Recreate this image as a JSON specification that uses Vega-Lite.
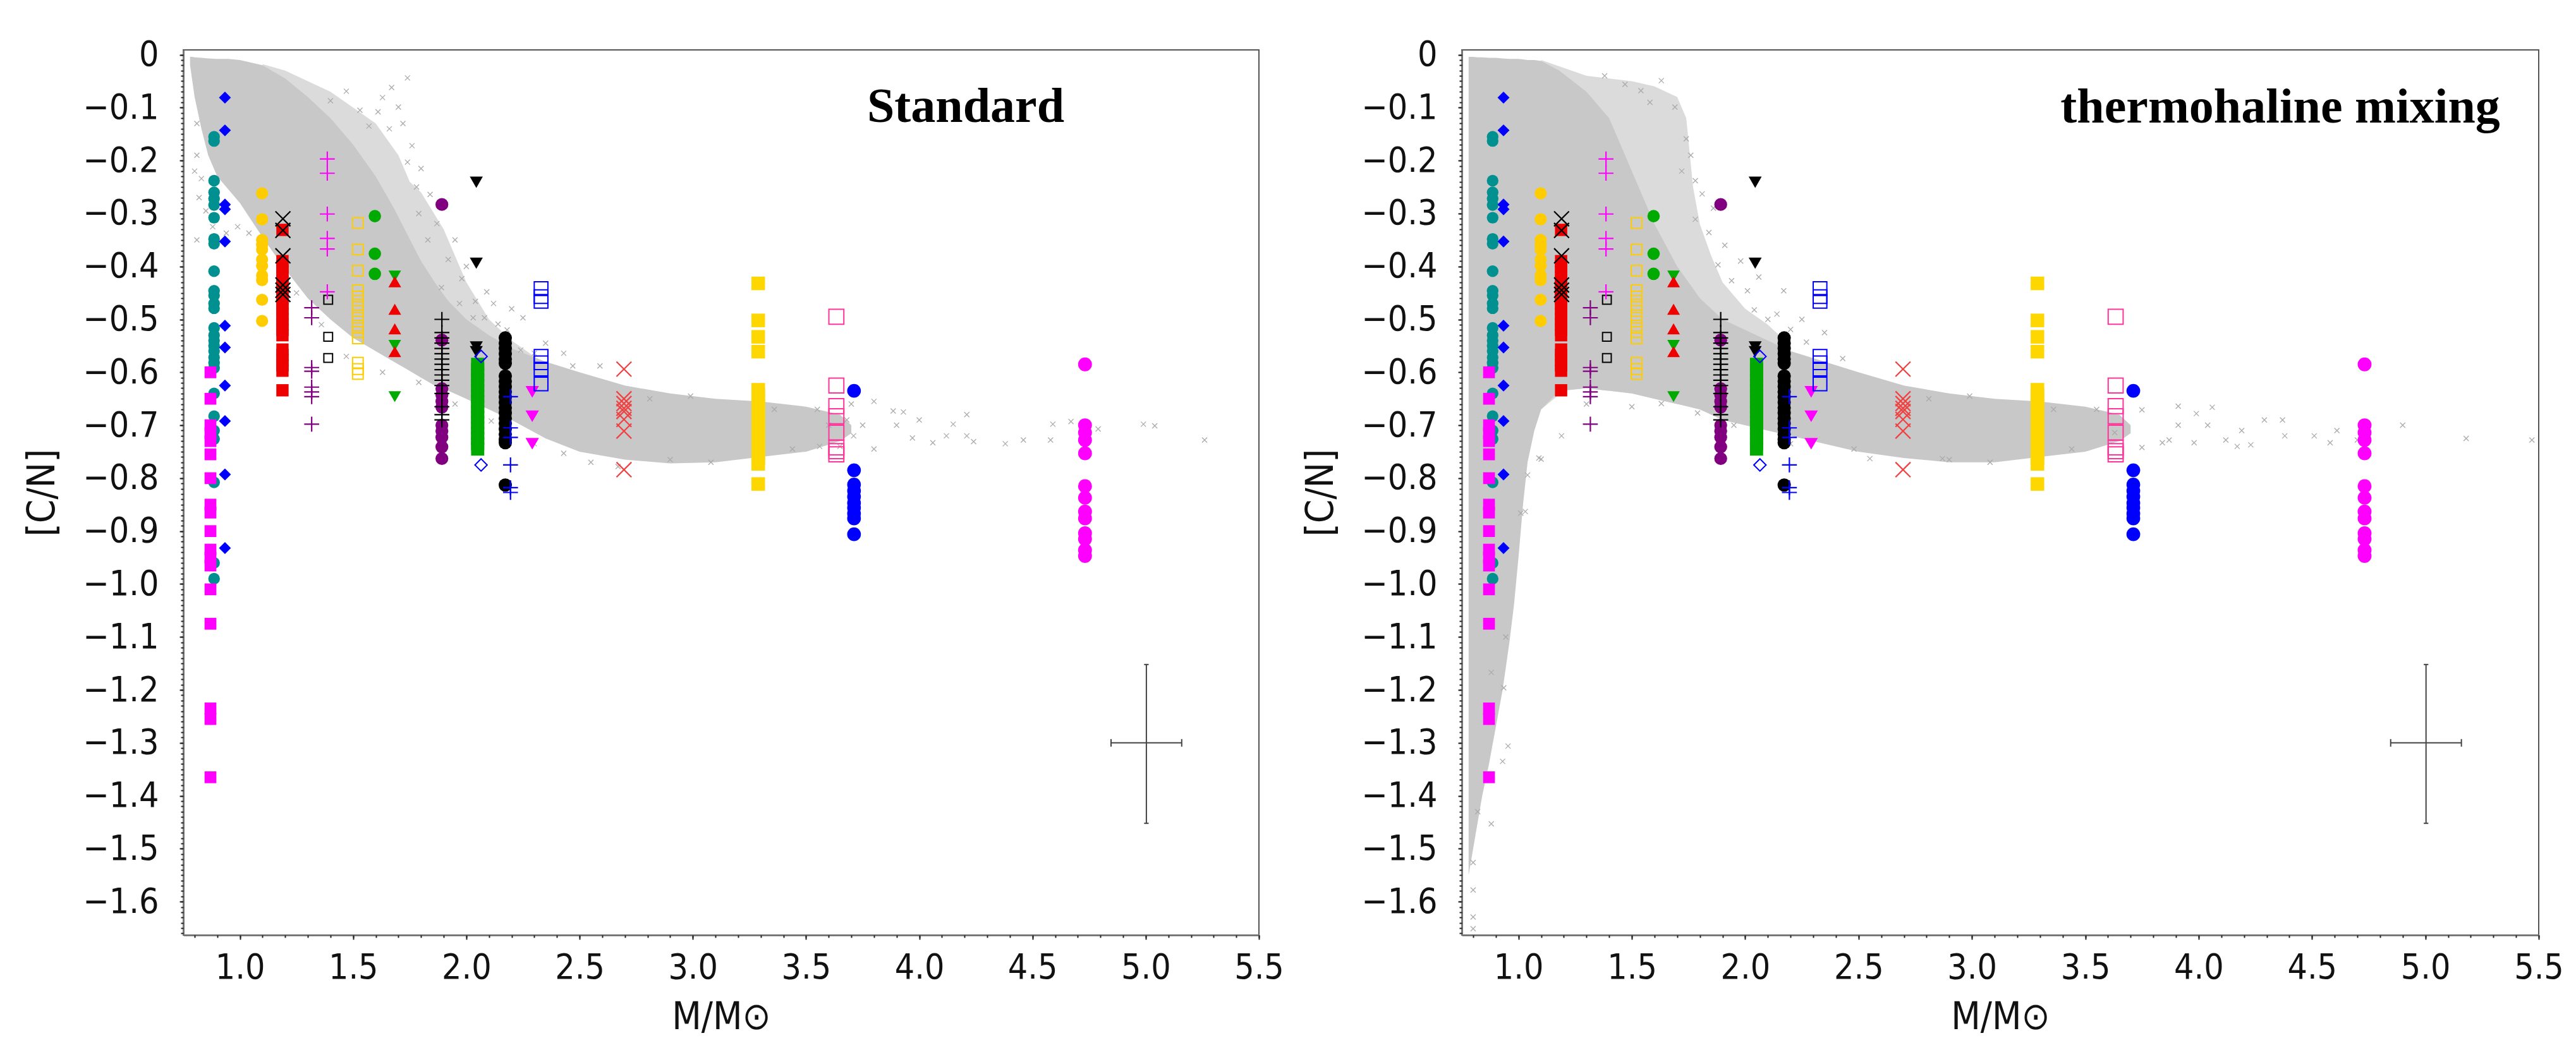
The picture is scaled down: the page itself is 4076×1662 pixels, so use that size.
{
"$schema": "https://vega.github.io/schema/vega-lite/v6.json",
"background": "white",
"padding": {"left": 36, "top": 58, "right": 10, "bottom": 10},
"autosize": {"type": "pad"},
"bounds": "flush",
"spacing": 321,
"config": {
 "view": {"stroke": "#555555", "strokeWidth": 2},
 "axis": {"labelFont": "DejaVu Sans Condensed, DejaVu Sans, sans-serif", "labelFontSize": 55, "labelColor": "#111111", "titleFont": "DejaVu Sans Condensed, DejaVu Sans, sans-serif", "titleFontSize": 60, "titleFontWeight": "normal", "titleColor": "#111111", "domainColor": "#777777", "domainWidth": 3, "tickColor": "#222222", "tickWidth": 2, "grid": false}
},
"datasets": {
 "obs": [
  {"g":"teal","m":0.886,"cn":-0.155},{"g":"teal","m":0.886,"cn":-0.163},{"g":"teal","m":0.886,"cn":-0.238},{"g":"teal","m":0.886,"cn":-0.26},{"g":"teal","m":0.886,"cn":-0.272},{"g":"teal","m":0.886,"cn":-0.284},{"g":"teal","m":0.886,"cn":-0.308},{"g":"teal","m":0.886,"cn":-0.348},{"g":"teal","m":0.886,"cn":-0.357},{"g":"teal","m":0.886,"cn":-0.409},{"g":"teal","m":0.886,"cn":-0.446},{"g":"teal","m":0.886,"cn":-0.455},{"g":"teal","m":0.886,"cn":-0.47},{"g":"teal","m":0.886,"cn":-0.479},{"g":"teal","m":0.886,"cn":-0.516},{"g":"teal","m":0.886,"cn":-0.53},{"g":"teal","m":0.886,"cn":-0.54},{"g":"teal","m":0.886,"cn":-0.55},{"g":"teal","m":0.886,"cn":-0.56},{"g":"teal","m":0.886,"cn":-0.572},{"g":"teal","m":0.886,"cn":-0.582},{"g":"teal","m":0.886,"cn":-0.592},{"g":"teal","m":0.886,"cn":-0.64},{"g":"teal","m":0.886,"cn":-0.683},{"g":"teal","m":0.886,"cn":-0.71},{"g":"teal","m":0.886,"cn":-0.726},{"g":"teal","m":0.886,"cn":-0.808},{"g":"teal","m":0.886,"cn":-0.96},{"g":"teal","m":0.886,"cn":-0.99},
  {"g":"msq","m":0.87,"cn":-0.60},{"g":"msq","m":0.87,"cn":-0.65},{"g":"msq","m":0.87,"cn":-0.70},{"g":"msq","m":0.87,"cn":-0.715},{"g":"msq","m":0.87,"cn":-0.73},{"g":"msq","m":0.87,"cn":-0.755},{"g":"msq","m":0.87,"cn":-0.80},{"g":"msq","m":0.87,"cn":-0.85},{"g":"msq","m":0.87,"cn":-0.865},{"g":"msq","m":0.87,"cn":-0.90},{"g":"msq","m":0.87,"cn":-0.935},{"g":"msq","m":0.87,"cn":-0.95},{"g":"msq","m":0.87,"cn":-0.965},{"g":"msq","m":0.87,"cn":-1.01},{"g":"msq","m":0.87,"cn":-1.075},{"g":"msq","m":0.87,"cn":-1.235},{"g":"msq","m":0.87,"cn":-1.255},{"g":"msq","m":0.87,"cn":-1.365},
  {"g":"bdiam","m":0.934,"cn":-0.081},{"g":"bdiam","m":0.934,"cn":-0.143},{"g":"bdiam","m":0.934,"cn":-0.283},{"g":"bdiam","m":0.934,"cn":-0.292},{"g":"bdiam","m":0.934,"cn":-0.353},{"g":"bdiam","m":0.934,"cn":-0.512},{"g":"bdiam","m":0.934,"cn":-0.553},{"g":"bdiam","m":0.934,"cn":-0.625},{"g":"bdiam","m":0.934,"cn":-0.692},{"g":"bdiam","m":0.934,"cn":-0.793},{"g":"bdiam","m":0.934,"cn":-0.932},
  {"g":"gcirc","m":1.098,"cn":-0.262},{"g":"gcirc","m":1.098,"cn":-0.311},{"g":"gcirc","m":1.098,"cn":-0.35},{"g":"gcirc","m":1.098,"cn":-0.359},{"g":"gcirc","m":1.098,"cn":-0.368},{"g":"gcirc","m":1.098,"cn":-0.387},{"g":"gcirc","m":1.098,"cn":-0.399},{"g":"gcirc","m":1.098,"cn":-0.417},{"g":"gcirc","m":1.098,"cn":-0.426},{"g":"gcirc","m":1.098,"cn":-0.463},{"g":"gcirc","m":1.098,"cn":-0.503},
  {"g":"rsq","m":1.188,"cn":-0.331},{"g":"rsq","m":1.188,"cn":-0.39},{"g":"rsq","m":1.188,"cn":-0.40},{"g":"rsq","m":1.188,"cn":-0.41},{"g":"rsq","m":1.188,"cn":-0.42},{"g":"rsq","m":1.188,"cn":-0.43},{"g":"rsq","m":1.188,"cn":-0.44},{"g":"rsq","m":1.188,"cn":-0.45},{"g":"rsq","m":1.188,"cn":-0.46},{"g":"rsq","m":1.188,"cn":-0.47},{"g":"rsq","m":1.188,"cn":-0.48},{"g":"rsq","m":1.188,"cn":-0.49},{"g":"rsq","m":1.188,"cn":-0.50},{"g":"rsq","m":1.188,"cn":-0.51},{"g":"rsq","m":1.188,"cn":-0.52},{"g":"rsq","m":1.188,"cn":-0.53},{"g":"rsq","m":1.188,"cn":-0.557},{"g":"rsq","m":1.188,"cn":-0.567},{"g":"rsq","m":1.188,"cn":-0.577},{"g":"rsq","m":1.188,"cn":-0.587},{"g":"rsq","m":1.188,"cn":-0.597},{"g":"rsq","m":1.188,"cn":-0.634},
  {"g":"grcirc","m":1.596,"cn":-0.305},{"g":"grcirc","m":1.596,"cn":-0.376},{"g":"grcirc","m":1.596,"cn":-0.414},
  {"g":"grtri","m":1.684,"cn":-0.418},{"g":"grtri","m":1.684,"cn":-0.549},{"g":"grtri","m":1.684,"cn":-0.646},
  {"g":"rtri","m":1.684,"cn":-0.429},{"g":"rtri","m":1.684,"cn":-0.481},{"g":"rtri","m":1.684,"cn":-0.518},{"g":"rtri","m":1.684,"cn":-0.561},
  {"g":"pcirc","m":1.892,"cn":-0.283},{"g":"pcirc","m":1.892,"cn":-0.539},{"g":"pcirc","m":1.892,"cn":-0.631},{"g":"pcirc","m":1.892,"cn":-0.643},{"g":"pcirc","m":1.892,"cn":-0.655},{"g":"pcirc","m":1.892,"cn":-0.666},{"g":"pcirc","m":1.892,"cn":-0.70},{"g":"pcirc","m":1.892,"cn":-0.711},{"g":"pcirc","m":1.892,"cn":-0.723},{"g":"pcirc","m":1.892,"cn":-0.741},{"g":"pcirc","m":1.892,"cn":-0.763},
  {"g":"btri","m":2.044,"cn":-0.241},{"g":"btri","m":2.044,"cn":-0.394},{"g":"btri","m":2.044,"cn":-0.552},{"g":"btri","m":2.044,"cn":-0.561},
  {"g":"grsq","m":2.05,"cn":-0.585},{"g":"grsq","m":2.05,"cn":-0.595},{"g":"grsq","m":2.05,"cn":-0.605},{"g":"grsq","m":2.05,"cn":-0.615},{"g":"grsq","m":2.05,"cn":-0.625},{"g":"grsq","m":2.05,"cn":-0.635},{"g":"grsq","m":2.05,"cn":-0.645},{"g":"grsq","m":2.05,"cn":-0.655},{"g":"grsq","m":2.05,"cn":-0.665},{"g":"grsq","m":2.05,"cn":-0.675},{"g":"grsq","m":2.05,"cn":-0.685},{"g":"grsq","m":2.05,"cn":-0.695},{"g":"grsq","m":2.05,"cn":-0.705},{"g":"grsq","m":2.05,"cn":-0.715},{"g":"grsq","m":2.05,"cn":-0.725},{"g":"grsq","m":2.05,"cn":-0.735},{"g":"grsq","m":2.05,"cn":-0.745},
  {"g":"bcirc","m":2.172,"cn":-0.535},{"g":"bcirc","m":2.172,"cn":-0.545},{"g":"bcirc","m":2.172,"cn":-0.555},{"g":"bcirc","m":2.172,"cn":-0.565},{"g":"bcirc","m":2.172,"cn":-0.575},{"g":"bcirc","m":2.172,"cn":-0.583},{"g":"bcirc","m":2.172,"cn":-0.607},{"g":"bcirc","m":2.172,"cn":-0.617},{"g":"bcirc","m":2.172,"cn":-0.627},{"g":"bcirc","m":2.172,"cn":-0.637},{"g":"bcirc","m":2.172,"cn":-0.647},{"g":"bcirc","m":2.172,"cn":-0.657},{"g":"bcirc","m":2.172,"cn":-0.667},{"g":"bcirc","m":2.172,"cn":-0.677},{"g":"bcirc","m":2.172,"cn":-0.687},{"g":"bcirc","m":2.172,"cn":-0.697},{"g":"bcirc","m":2.172,"cn":-0.707},{"g":"bcirc","m":2.172,"cn":-0.717},{"g":"bcirc","m":2.172,"cn":-0.727},{"g":"bcirc","m":2.172,"cn":-0.733},{"g":"bcirc","m":2.172,"cn":-0.813},
  {"g":"mtri","m":2.291,"cn":-0.637},{"g":"mtri","m":2.291,"cn":-0.683},{"g":"mtri","m":2.291,"cn":-0.735},
  {"g":"ysq","m":3.289,"cn":-0.432},{"g":"ysq","m":3.289,"cn":-0.502},{"g":"ysq","m":3.289,"cn":-0.533},{"g":"ysq","m":3.289,"cn":-0.561},{"g":"ysq","m":3.289,"cn":-0.633},{"g":"ysq","m":3.289,"cn":-0.643},{"g":"ysq","m":3.289,"cn":-0.653},{"g":"ysq","m":3.289,"cn":-0.663},{"g":"ysq","m":3.289,"cn":-0.673},{"g":"ysq","m":3.289,"cn":-0.683},{"g":"ysq","m":3.289,"cn":-0.693},{"g":"ysq","m":3.289,"cn":-0.703},{"g":"ysq","m":3.289,"cn":-0.713},{"g":"ysq","m":3.289,"cn":-0.723},{"g":"ysq","m":3.289,"cn":-0.733},{"g":"ysq","m":3.289,"cn":-0.743},{"g":"ysq","m":3.289,"cn":-0.753},{"g":"ysq","m":3.289,"cn":-0.763},{"g":"ysq","m":3.289,"cn":-0.773},{"g":"ysq","m":3.289,"cn":-0.811},
  {"g":"bbig","m":3.712,"cn":-0.635},{"g":"bbig","m":3.712,"cn":-0.785},{"g":"bbig","m":3.712,"cn":-0.812},{"g":"bbig","m":3.712,"cn":-0.824},{"g":"bbig","m":3.712,"cn":-0.835},{"g":"bbig","m":3.712,"cn":-0.847},{"g":"bbig","m":3.712,"cn":-0.856},{"g":"bbig","m":3.712,"cn":-0.867},{"g":"bbig","m":3.712,"cn":-0.876},{"g":"bbig","m":3.712,"cn":-0.906},
  {"g":"mcirc","m":4.732,"cn":-0.585},{"g":"mcirc","m":4.732,"cn":-0.70},{"g":"mcirc","m":4.732,"cn":-0.714},{"g":"mcirc","m":4.732,"cn":-0.728},{"g":"mcirc","m":4.732,"cn":-0.753},{"g":"mcirc","m":4.732,"cn":-0.815},{"g":"mcirc","m":4.732,"cn":-0.837},{"g":"mcirc","m":4.732,"cn":-0.863},{"g":"mcirc","m":4.732,"cn":-0.876},{"g":"mcirc","m":4.732,"cn":-0.904},{"g":"mcirc","m":4.732,"cn":-0.915},{"g":"mcirc","m":4.732,"cn":-0.936},{"g":"mcirc","m":4.732,"cn":-0.947},
  {"g":"bopen","m":1.39,"cn":-0.463},{"g":"bopen","m":1.39,"cn":-0.533},{"g":"bopen","m":1.39,"cn":-0.573},
  {"g":"gopensq","m":1.521,"cn":-0.318},{"g":"gopensq","m":1.521,"cn":-0.368},{"g":"gopensq","m":1.521,"cn":-0.408},{"g":"gopensq","m":1.521,"cn":-0.445},{"g":"gopensq","m":1.521,"cn":-0.457},{"g":"gopensq","m":1.521,"cn":-0.472},{"g":"gopensq","m":1.521,"cn":-0.484},{"g":"gopensq","m":1.521,"cn":-0.497},{"g":"gopensq","m":1.521,"cn":-0.512},{"g":"gopensq","m":1.521,"cn":-0.524},{"g":"gopensq","m":1.521,"cn":-0.536},{"g":"gopensq","m":1.521,"cn":-0.582},{"g":"gopensq","m":1.521,"cn":-0.594},{"g":"gopensq","m":1.521,"cn":-0.603},
  {"g":"bodiam","m":2.065,"cn":-0.57},{"g":"bodiam","m":2.065,"cn":-0.775},
  {"g":"bopensq","m":2.33,"cn":-0.442},{"g":"bopensq","m":2.33,"cn":-0.457},{"g":"bopensq","m":2.33,"cn":-0.466},{"g":"bopensq","m":2.33,"cn":-0.57},{"g":"bopensq","m":2.33,"cn":-0.582},{"g":"bopensq","m":2.33,"cn":-0.594},{"g":"bopensq","m":2.33,"cn":-0.622},
  {"g":"popensq","m":3.634,"cn":-0.495},{"g":"popensq","m":3.634,"cn":-0.625},{"g":"popensq","m":3.634,"cn":-0.664},{"g":"popensq","m":3.634,"cn":-0.683},{"g":"popensq","m":3.634,"cn":-0.714},{"g":"popensq","m":3.634,"cn":-0.742},{"g":"popensq","m":3.634,"cn":-0.749},{"g":"popensq","m":3.634,"cn":-0.755},
  {"g":"bx","m":1.19,"cn":-0.31},{"g":"bx","m":1.19,"cn":-0.332},{"g":"bx","m":1.19,"cn":-0.38},{"g":"bx","m":1.19,"cn":-0.435},{"g":"bx","m":1.19,"cn":-0.445},{"g":"bx","m":1.19,"cn":-0.453},
  {"g":"pplus","m":1.317,"cn":-0.478},{"g":"pplus","m":1.317,"cn":-0.497},{"g":"pplus","m":1.317,"cn":-0.591},{"g":"pplus","m":1.317,"cn":-0.598},{"g":"pplus","m":1.317,"cn":-0.628},{"g":"pplus","m":1.317,"cn":-0.637},{"g":"pplus","m":1.317,"cn":-0.646},{"g":"pplus","m":1.317,"cn":-0.698},
  {"g":"mplus","m":1.386,"cn":-0.197},{"g":"mplus","m":1.386,"cn":-0.224},{"g":"mplus","m":1.386,"cn":-0.301},{"g":"mplus","m":1.386,"cn":-0.347},{"g":"mplus","m":1.386,"cn":-0.367},{"g":"mplus","m":1.386,"cn":-0.448},
  {"g":"bplus","m":1.892,"cn":-0.50},{"g":"bplus","m":1.892,"cn":-0.525},{"g":"bplus","m":1.892,"cn":-0.535},{"g":"bplus","m":1.892,"cn":-0.545},{"g":"bplus","m":1.892,"cn":-0.555},{"g":"bplus","m":1.892,"cn":-0.565},{"g":"bplus","m":1.892,"cn":-0.575},{"g":"bplus","m":1.892,"cn":-0.585},{"g":"bplus","m":1.892,"cn":-0.595},{"g":"bplus","m":1.892,"cn":-0.605},{"g":"bplus","m":1.892,"cn":-0.615},{"g":"bplus","m":1.892,"cn":-0.625},{"g":"bplus","m":1.892,"cn":-0.64},{"g":"bplus","m":1.892,"cn":-0.665},{"g":"bplus","m":1.892,"cn":-0.68},{"g":"bplus","m":1.892,"cn":-0.69},
  {"g":"bplus2","m":2.195,"cn":-0.646},{"g":"bplus2","m":2.195,"cn":-0.705},{"g":"bplus2","m":2.195,"cn":-0.723},{"g":"bplus2","m":2.195,"cn":-0.775},{"g":"bplus2","m":2.195,"cn":-0.818},{"g":"bplus2","m":2.195,"cn":-0.827},
  {"g":"sx","m":2.696,"cn":-0.594},{"g":"sx","m":2.696,"cn":-0.65},{"g":"sx","m":2.696,"cn":-0.659},{"g":"sx","m":2.696,"cn":-0.668},{"g":"sx","m":2.696,"cn":-0.674},{"g":"sx","m":2.696,"cn":-0.689},{"g":"sx","m":2.696,"cn":-0.711},{"g":"sx","m":2.696,"cn":-0.784}
 ],
 "lightStd": [
  {"m":1.10,"hi":-0.018,"lo":-0.345},{"m":1.20,"hi":-0.03,"lo":-0.405},{"m":1.30,"hi":-0.05,"lo":-0.46},{"m":1.40,"hi":-0.07,"lo":-0.50},{"m":1.50,"hi":-0.10,"lo":-0.535},{"m":1.60,"hi":-0.13,"lo":-0.56},{"m":1.70,"hi":-0.19,"lo":-0.585},{"m":1.75,"hi":-0.24,"lo":-0.595},{"m":1.80,"hi":-0.26,"lo":-0.61},{"m":1.90,"hi":-0.33,"lo":-0.63},{"m":1.95,"hi":-0.38,"lo":-0.64},{"m":2.00,"hi":-0.43,"lo":-0.65},{"m":2.10,"hi":-0.50,"lo":-0.67},{"m":2.20,"hi":-0.54,"lo":-0.69},{"m":2.30,"hi":-0.57,"lo":-0.71}
 ],
 "cloudStd": [
  {"m":0.78,"hi":-0.004,"lo":-0.02},{"m":0.79,"hi":-0.004,"lo":-0.05},{"m":0.80,"hi":-0.005,"lo":-0.08},{"m":0.83,"hi":-0.006,"lo":-0.14},{"m":0.86,"hi":-0.007,"lo":-0.19},{"m":0.90,"hi":-0.008,"lo":-0.23},{"m":0.95,"hi":-0.008,"lo":-0.255},{"m":1.00,"hi":-0.01,"lo":-0.28},{"m":1.10,"hi":-0.02,"lo":-0.345},{"m":1.20,"hi":-0.045,"lo":-0.405},{"m":1.30,"hi":-0.08,"lo":-0.46},{"m":1.40,"hi":-0.12,"lo":-0.50},{"m":1.50,"hi":-0.17,"lo":-0.535},{"m":1.60,"hi":-0.23,"lo":-0.56},{"m":1.68,"hi":-0.29,"lo":-0.58},{"m":1.74,"hi":-0.34,"lo":-0.595},{"m":1.80,"hi":-0.39,"lo":-0.61},{"m":1.86,"hi":-0.43,"lo":-0.625},{"m":1.92,"hi":-0.465,"lo":-0.635},{"m":2.00,"hi":-0.50,"lo":-0.65},{"m":2.10,"hi":-0.53,"lo":-0.67},{"m":2.20,"hi":-0.555,"lo":-0.69},{"m":2.35,"hi":-0.58,"lo":-0.725},{"m":2.50,"hi":-0.60,"lo":-0.75},{"m":2.70,"hi":-0.625,"lo":-0.765},{"m":2.90,"hi":-0.64,"lo":-0.772},{"m":3.10,"hi":-0.65,"lo":-0.77},{"m":3.30,"hi":-0.655,"lo":-0.76},{"m":3.50,"hi":-0.665,"lo":-0.75},{"m":3.65,"hi":-0.68,"lo":-0.73},{"m":3.70,"hi":-0.70,"lo":-0.715}
 ],
 "lightThm": [
  {"m":1.10,"hi":-0.01,"lo":-0.67},{"m":1.20,"hi":-0.025,"lo":-0.635},{"m":1.30,"hi":-0.04,"lo":-0.63},{"m":1.40,"hi":-0.045,"lo":-0.635},{"m":1.50,"hi":-0.05,"lo":-0.64},{"m":1.60,"hi":-0.06,"lo":-0.65},{"m":1.70,"hi":-0.08,"lo":-0.66},{"m":1.74,"hi":-0.12,"lo":-0.663},{"m":1.77,"hi":-0.25,"lo":-0.667},{"m":1.80,"hi":-0.32,"lo":-0.67},{"m":1.85,"hi":-0.38,"lo":-0.68},{"m":1.90,"hi":-0.43,"lo":-0.69},{"m":2.00,"hi":-0.48,"lo":-0.70},{"m":2.10,"hi":-0.51,"lo":-0.71},{"m":2.20,"hi":-0.55,"lo":-0.72}
 ],
 "cloudThm": [
  {"m":0.78,"hi":-0.004,"lo":-1.55},{"m":0.80,"hi":-0.004,"lo":-1.50},{"m":0.82,"hi":-0.005,"lo":-1.45},{"m":0.84,"hi":-0.005,"lo":-1.40},{"m":0.87,"hi":-0.006,"lo":-1.34},{"m":0.90,"hi":-0.006,"lo":-1.27},{"m":0.93,"hi":-0.007,"lo":-1.20},{"m":0.96,"hi":-0.008,"lo":-1.11},{"m":0.98,"hi":-0.008,"lo":-1.04},{"m":1.00,"hi":-0.008,"lo":-0.95},{"m":1.02,"hi":-0.009,"lo":-0.85},{"m":1.04,"hi":-0.01,"lo":-0.77},{"m":1.07,"hi":-0.01,"lo":-0.71},{"m":1.10,"hi":-0.012,"lo":-0.67},{"m":1.18,"hi":-0.03,"lo":-0.635},{"m":1.30,"hi":-0.07,"lo":-0.63},{"m":1.40,"hi":-0.12,"lo":-0.635},{"m":1.50,"hi":-0.22,"lo":-0.64},{"m":1.60,"hi":-0.32,"lo":-0.65},{"m":1.70,"hi":-0.40,"lo":-0.66},{"m":1.75,"hi":-0.43,"lo":-0.665},{"m":1.80,"hi":-0.46,"lo":-0.67},{"m":1.85,"hi":-0.48,"lo":-0.68},{"m":1.90,"hi":-0.50,"lo":-0.69},{"m":2.00,"hi":-0.52,"lo":-0.70},{"m":2.10,"hi":-0.54,"lo":-0.71},{"m":2.20,"hi":-0.56,"lo":-0.72},{"m":2.35,"hi":-0.58,"lo":-0.735},{"m":2.50,"hi":-0.60,"lo":-0.75},{"m":2.70,"hi":-0.625,"lo":-0.762},{"m":2.90,"hi":-0.64,"lo":-0.77},{"m":3.10,"hi":-0.65,"lo":-0.77},{"m":3.30,"hi":-0.655,"lo":-0.76},{"m":3.50,"hi":-0.665,"lo":-0.75},{"m":3.65,"hi":-0.68,"lo":-0.73},{"m":3.70,"hi":-0.70,"lo":-0.715}
 ],
 "ptsStd": [
  {"m":1.74,"cn":-0.044},{"m":1.67,"cn":-0.062},{"m":1.70,"cn":-0.099},{"m":1.61,"cn":-0.108},{"m":1.53,"cn":-0.105},{"m":1.40,"cn":-0.087},{"m":1.47,"cn":-0.069},{"m":1.63,"cn":-0.081},{"m":1.72,"cn":-0.13},{"m":1.76,"cn":-0.172},{"m":1.80,"cn":-0.215},{"m":1.74,"cn":-0.203},{"m":1.84,"cn":-0.264},{"m":1.79,"cn":-0.30},{"m":1.87,"cn":-0.319},{"m":1.95,"cn":-0.35},{"m":1.92,"cn":-0.387},{"m":1.98,"cn":-0.423},{"m":2.04,"cn":-0.466},{"m":2.08,"cn":-0.497},{"m":2.03,"cn":-0.497},{"m":2.09,"cn":-0.448},{"m":2.14,"cn":-0.509},{"m":2.25,"cn":-0.497},{"m":2.24,"cn":-0.558},{"m":2.30,"cn":-0.564},{"m":2.35,"cn":-0.545},{"m":2.43,"cn":-0.564},{"m":2.47,"cn":-0.588},{"m":2.59,"cn":-0.588},{"m":1.57,"cn":-0.135},{"m":1.66,"cn":-0.14},{"m":1.78,"cn":-0.25},{"m":1.83,"cn":-0.35},{"m":1.89,"cn":-0.44},{"m":1.97,"cn":-0.47},{"m":2.0,"cn":-0.40},{"m":2.12,"cn":-0.47},{"m":2.18,"cn":-0.52},{"m":2.2,"cn":-0.48},
  {"m":0.81,"cn":-0.13},{"m":0.81,"cn":-0.19},{"m":0.83,"cn":-0.234},{"m":0.85,"cn":-0.295},{"m":0.81,"cn":-0.35},{"m":0.88,"cn":-0.325},{"m":0.94,"cn":-0.337},{"m":0.99,"cn":-0.325},{"m":1.04,"cn":-0.337},{"m":0.82,"cn":-0.27},{"m":0.80,"cn":-0.22},
  {"m":1.47,"cn":-0.57},{"m":1.63,"cn":-0.60},{"m":1.79,"cn":-0.619},{"m":2.11,"cn":-0.692},{"m":2.43,"cn":-0.753},{"m":2.67,"cn":-0.778},{"m":1.25,"cn":-0.45},{"m":1.36,"cn":-0.51},{"m":1.95,"cn":-0.66},{"m":2.3,"cn":-0.735},{"m":2.55,"cn":-0.77},
  {"m":2.81,"cn":-0.65},{"m":2.99,"cn":-0.645},{"m":2.90,"cn":-0.765},{"m":3.08,"cn":-0.77},{"m":3.36,"cn":-0.67},{"m":3.44,"cn":-0.745},{"m":3.55,"cn":-0.67},{"m":3.56,"cn":-0.74},{"m":3.65,"cn":-0.74},{"m":3.68,"cn":-0.69},{"m":3.71,"cn":-0.72},{"m":3.80,"cn":-0.655},{"m":3.80,"cn":-0.745},{"m":3.885,"cn":-0.673},{"m":3.93,"cn":-0.675},{"m":3.97,"cn":-0.724},{"m":4.06,"cn":-0.733},{"m":4.12,"cn":-0.72},{"m":4.15,"cn":-0.698},{"m":4.21,"cn":-0.68},{"m":4.21,"cn":-0.72},{"m":4.24,"cn":-0.731},{"m":4.38,"cn":-0.735},{"m":4.46,"cn":-0.728},{"m":4.58,"cn":-0.728},{"m":4.59,"cn":-0.698},{"m":4.67,"cn":-0.693},{"m":4.79,"cn":-0.707},{"m":4.99,"cn":-0.698},{"m":5.04,"cn":-0.701},{"m":5.26,"cn":-0.728},{"m":3.75,"cn":-0.70},{"m":3.9,"cn":-0.70},{"m":4.0,"cn":-0.69},{"m":3.6,"cn":-0.70},{"m":3.7,"cn":-0.66}
 ],
 "ptsThm": [
  {"m":1.47,"cn":-0.056},{"m":1.63,"cn":-0.049},{"m":1.54,"cn":-0.068},{"m":1.69,"cn":-0.099},{"m":1.74,"cn":-0.159},{"m":1.72,"cn":-0.22},{"m":1.78,"cn":-0.238},{"m":1.81,"cn":-0.263},{"m":1.78,"cn":-0.311},{"m":1.84,"cn":-0.336},{"m":1.91,"cn":-0.36},{"m":1.88,"cn":-0.397},{"m":1.94,"cn":-0.427},{"m":2.01,"cn":-0.446},{"m":2.04,"cn":-0.482},{"m":2.10,"cn":-0.50},{"m":2.17,"cn":-0.446},{"m":2.20,"cn":-0.519},{"m":2.27,"cn":-0.543},{"m":2.35,"cn":-0.525},{"m":2.43,"cn":-0.574},{"m":1.38,"cn":-0.04},{"m":1.58,"cn":-0.09},{"m":1.76,"cn":-0.19},{"m":1.86,"cn":-0.29},{"m":1.98,"cn":-0.39},{"m":2.06,"cn":-0.42},{"m":2.14,"cn":-0.49},{"m":2.25,"cn":-0.50},
  {"m":1.50,"cn":-0.665},{"m":1.63,"cn":-0.659},{"m":1.79,"cn":-0.677},{"m":1.19,"cn":-0.72},{"m":1.09,"cn":-0.762},{"m":1.01,"cn":-0.866},{"m":2.48,"cn":-0.745},{"m":2.55,"cn":-0.763},{"m":2.87,"cn":-0.763},{"m":1.3,"cn":-0.66},{"m":1.95,"cn":-0.70},{"m":2.2,"cn":-0.735},
  {"m":1.10,"cn":-0.764},{"m":1.04,"cn":-0.794},{"m":1.03,"cn":-0.863},{"m":0.88,"cn":-1.167},{"m":0.935,"cn":-1.196},{"m":0.88,"cn":-1.453},{"m":0.80,"cn":-1.526},{"m":0.80,"cn":-1.578},{"m":0.80,"cn":-1.629},{"m":0.80,"cn":-1.651},{"m":0.82,"cn":-1.43},{"m":0.93,"cn":-1.335},{"m":0.954,"cn":-1.306},{"m":0.944,"cn":-1.10},
  {"m":2.81,"cn":-0.65},{"m":2.99,"cn":-0.645},{"m":2.90,"cn":-0.765},{"m":3.08,"cn":-0.77},{"m":3.36,"cn":-0.67},{"m":3.44,"cn":-0.745},{"m":3.55,"cn":-0.67},{"m":3.63,"cn":-0.714},{"m":3.75,"cn":-0.671},{"m":3.75,"cn":-0.742},{"m":3.84,"cn":-0.733},{"m":3.87,"cn":-0.728},{"m":3.91,"cn":-0.664},{"m":3.91,"cn":-0.70},{"m":3.98,"cn":-0.733},{"m":3.99,"cn":-0.678},{"m":4.04,"cn":-0.70},{"m":4.06,"cn":-0.666},{"m":4.12,"cn":-0.728},{"m":4.17,"cn":-0.74},{"m":4.19,"cn":-0.71},{"m":4.23,"cn":-0.737},{"m":4.29,"cn":-0.69},{"m":4.37,"cn":-0.69},{"m":4.38,"cn":-0.72},{"m":4.51,"cn":-0.72},{"m":4.58,"cn":-0.733},{"m":4.61,"cn":-0.71},{"m":4.70,"cn":-0.728},{"m":4.90,"cn":-0.70},{"m":5.18,"cn":-0.725},{"m":5.47,"cn":-0.728}
 ],
 "err": [{"m":5.003,"cn":-1.30,"xlo":4.847,"xhi":5.159,"ylo":-1.452,"yhi":-1.152}],
 "caps": [{"m":4.847,"cn":-1.30,"c":"v"},{"m":5.159,"cn":-1.30,"c":"v"},{"m":5.003,"cn":-1.152,"c":"h"},{"m":5.003,"cn":-1.452,"c":"h"}],
 "lblStd": [{"m":4.205,"cn":-0.1265,"t":"Standard"}],
 "lblThm": [{"m":4.36,"cn":-0.128,"t":"thermohaline mixing"}]
},
"hconcat": [
 {
  "width": 1702, "height": 1401,
  "resolve": {"axis": {"x": "independent", "y": "independent"}, "scale": {"color": "independent", "shape": "independent", "size": "independent"}},
  "layer": [
   {"data": {"name": "lightStd"}, "mark": {"type": "area", "color": "#dbdbdb", "clip": true},
    "encoding": {
     "x": {"field": "m", "type": "quantitative", "scale": {"domain": [0.75, 5.5], "nice": false, "zero": false}, "axis": {"orient": "bottom", "values": [1, 1.5, 2, 2.5, 3, 3.5, 4, 4.5, 5, 5.5], "format": ".1f", "title": "M/M⊙", "tickSize": 7, "labelPadding": 18, "titlePadding": 22, "labelFlush": false}},
     "y": {"field": "hi", "type": "quantitative", "scale": {"domain": [-1.663, 0.009], "nice": false, "zero": false}, "axis": {"orient": "left", "values": [0, -0.1, -0.2, -0.3, -0.4, -0.5, -0.6, -0.7, -0.8, -0.9, -1.0, -1.1, -1.2, -1.3, -1.4, -1.5, -1.6], "labelExpr": "datum.value == 0 ? '0' : format(datum.value, '.1f')", "title": "[C/N]", "tickSize": 6, "labelPadding": 33, "titlePadding": 32, "labelFlush": false, "labelOverlap": false}},
     "y2": {"field": "lo"}
    }},
   {"data": {"name": "cloudStd"}, "mark": {"type": "area", "color": "#c8c8c8", "clip": true},
    "encoding": {
     "x": {"field": "m", "type": "quantitative", "scale": {"domain": [0.75, 5.5], "nice": false, "zero": false}, "axis": null},
     "y": {"field": "hi", "type": "quantitative", "scale": {"domain": [-1.663, 0.009], "nice": false, "zero": false}, "axis": null},
     "y2": {"field": "lo"}
    }},
   {"data": {"name": "ptsStd"}, "mark": {"type": "point", "shape": "M-1,-1L1,1M-1,1L1,-1", "size": 64, "filled": false, "color": "#aaaaaa", "strokeWidth": 1.3, "opacity": 1, "clip": true},
    "encoding": {
     "x": {"field": "m", "type": "quantitative", "scale": {"domain": [0.75, 5.5], "nice": false, "zero": false}, "axis": {"orient": "bottom", "tickCount": 48, "labels": false, "domain": false, "tickSize": 4, "title": null}},
     "y": {"field": "cn", "type": "quantitative", "scale": {"domain": [-1.663, 0.009], "nice": false, "zero": false}, "axis": {"orient": "left", "tickCount": 168, "labels": false, "domain": false, "tickSize": 4, "title": null}}
    }},
   {"data": {"name": "obs"}, "transform": [{"filter": {"field": "g", "oneOf": ["teal","msq","bdiam","gcirc","rsq","grcirc","grtri","rtri","pcirc","btri","grsq","bcirc","mtri","ysq","bbig","mcirc"]}}],
    "mark": {"type": "point", "filled": true, "opacity": 1, "clip": true},
    "encoding": {
     "x": {"field": "m", "type": "quantitative", "scale": {"domain": [0.75, 5.5], "nice": false, "zero": false}, "axis": null},
     "y": {"field": "cn", "type": "quantitative", "scale": {"domain": [-1.663, 0.009], "nice": false, "zero": false}, "axis": null},
     "shape": {"field": "g", "type": "nominal", "scale": {"domain": ["teal","msq","bdiam","gcirc","rsq","grcirc","grtri","rtri","pcirc","btri","grsq","bcirc","mtri","ysq","bbig","mcirc"], "range": ["circle","square","diamond","circle","square","circle","triangle-down","triangle-up","circle","triangle-down","square","circle","triangle-down","square","circle","circle"]}, "legend": null},
     "color": {"field": "g", "type": "nominal", "scale": {"domain": ["teal","msq","bdiam","gcirc","rsq","grcirc","grtri","rtri","pcirc","btri","grsq","bcirc","mtri","ysq","bbig","mcirc"], "range": ["#009090","#ff00ff","#0000ff","#ffcc00","#ee0000","#00aa00","#00aa00","#ee0000","#800080","#000000","#00aa00","#000000","#ff00ff","#ffd700","#0000ff","#ff00ff"]}, "legend": null},
     "size": {"field": "g", "type": "ordinal", "scale": {"domain": ["teal","msq","bdiam","gcirc","rsq","grcirc","grtri","rtri","pcirc","btri","grsq","bcirc","mtri","ysq","bbig","mcirc"], "range": [340,480,620,360,480,380,450,450,380,560,420,380,500,440,580,380]}, "legend": null}
    }},
   {"data": {"name": "obs"}, "transform": [{"filter": {"field": "g", "oneOf": ["bopen","gopensq","bodiam","bopensq","popensq"]}}],
    "mark": {"type": "point", "filled": false, "strokeWidth": 2, "opacity": 1, "clip": true},
    "encoding": {
     "x": {"field": "m", "type": "quantitative", "scale": {"domain": [0.75, 5.5], "nice": false, "zero": false}, "axis": null},
     "y": {"field": "cn", "type": "quantitative", "scale": {"domain": [-1.663, 0.009], "nice": false, "zero": false}, "axis": null},
     "shape": {"field": "g", "type": "nominal", "scale": {"domain": ["bopen","gopensq","bodiam","bopensq","popensq"], "range": ["square","square","diamond","square","square"]}, "legend": null},
     "color": {"field": "g", "type": "nominal", "scale": {"domain": ["bopen","gopensq","bodiam","bopensq","popensq"], "range": ["#000000","#ffcc00","#0000ff","#0000ff","#ff3399"]}, "legend": null},
     "size": {"field": "g", "type": "ordinal", "scale": {"domain": ["bopen","gopensq","bodiam","bopensq","popensq"], "range": [190,560,320,420,300]}, "legend": null}
    }},
   {"data": {"name": "obs"}, "transform": [{"filter": {"field": "g", "oneOf": ["bx","pplus","mplus","bplus","bplus2","sx"]}}],
    "mark": {"type": "point", "filled": false, "strokeWidth": 2.2, "opacity": 1, "clip": true},
    "encoding": {
     "x": {"field": "m", "type": "quantitative", "scale": {"domain": [0.75, 5.5], "nice": false, "zero": false}, "axis": null},
     "y": {"field": "cn", "type": "quantitative", "scale": {"domain": [-1.663, 0.009], "nice": false, "zero": false}, "axis": null},
     "shape": {"field": "g", "type": "nominal", "scale": {"domain": ["bx","pplus","mplus","bplus","bplus2","sx"], "range": ["M-1,-1L1,1M-1,1L1,-1","M-1,0L1,0M0,-1L0,1","M-1,0L1,0M0,-1L0,1","M-1,0L1,0M0,-1L0,1","M-1,0L1,0M0,-1L0,1","M-1,-1L1,1M-1,1L1,-1"]}, "legend": null},
     "color": {"field": "g", "type": "nominal", "scale": {"domain": ["bx","pplus","mplus","bplus","bplus2","sx"], "range": ["#000000","#800080","#ff00ff","#000000","#0000ff","#f04040"]}, "legend": null},
     "size": {"field": "g", "type": "ordinal", "scale": {"domain": ["bx","pplus","mplus","bplus","bplus2","sx"], "range": [560,560,560,700,540,850]}, "legend": null}
    }},
   {"data": {"name": "err"}, "mark": {"type": "rule", "color": "#444444", "strokeWidth": 2},
    "encoding": {
     "x": {"field": "m", "type": "quantitative", "scale": {"domain": [0.75, 5.5], "nice": false, "zero": false}, "axis": null},
     "y": {"field": "ylo", "type": "quantitative", "scale": {"domain": [-1.663, 0.009], "nice": false, "zero": false}, "axis": null},
     "y2": {"field": "yhi"}
    }},
   {"data": {"name": "err"}, "mark": {"type": "rule", "color": "#444444", "strokeWidth": 2},
    "encoding": {
     "x": {"field": "xlo", "type": "quantitative", "scale": {"domain": [0.75, 5.5], "nice": false, "zero": false}, "axis": null},
     "x2": {"field": "xhi"},
     "y": {"field": "cn", "type": "quantitative", "scale": {"domain": [-1.663, 0.009], "nice": false, "zero": false}, "axis": null}
    }},
   {"data": {"name": "caps"}, "mark": {"type": "point", "filled": false, "strokeWidth": 2, "color": "#444444", "opacity": 1, "size": 144},
    "encoding": {
     "x": {"field": "m", "type": "quantitative", "scale": {"domain": [0.75, 5.5], "nice": false, "zero": false}, "axis": null},
     "y": {"field": "cn", "type": "quantitative", "scale": {"domain": [-1.663, 0.009], "nice": false, "zero": false}, "axis": null},
     "shape": {"field": "c", "type": "nominal", "scale": {"domain": ["v","h"], "range": ["M0,-1L0,1","M-0.6,0L0.6,0"]}, "legend": null}
    }},
   {"data": {"name": "lblStd"}, "mark": {"type": "text", "font": "Liberation Serif", "fontWeight": "bold", "fontSize": 78, "align": "center", "baseline": "alphabetic", "color": "#000000"},
    "encoding": {
     "x": {"field": "m", "type": "quantitative", "scale": {"domain": [0.75, 5.5], "nice": false, "zero": false}, "axis": null},
     "y": {"field": "cn", "type": "quantitative", "scale": {"domain": [-1.663, 0.009], "nice": false, "zero": false}, "axis": null},
     "text": {"field": "t"}
    }}
  ]
 },
 {
  "width": 1704, "height": 1401,
  "resolve": {"axis": {"x": "independent", "y": "independent"}, "scale": {"color": "independent", "shape": "independent", "size": "independent"}},
  "layer": [
   {"data": {"name": "lightThm"}, "mark": {"type": "area", "color": "#dbdbdb", "clip": true},
    "encoding": {
     "x": {"field": "m", "type": "quantitative", "scale": {"domain": [0.75, 5.5], "nice": false, "zero": false}, "axis": {"orient": "bottom", "values": [1, 1.5, 2, 2.5, 3, 3.5, 4, 4.5, 5, 5.5], "format": ".1f", "title": "M/M⊙", "tickSize": 7, "labelPadding": 18, "titlePadding": 22, "labelFlush": false}},
     "y": {"field": "hi", "type": "quantitative", "scale": {"domain": [-1.663, 0.009], "nice": false, "zero": false}, "axis": {"orient": "left", "values": [0, -0.1, -0.2, -0.3, -0.4, -0.5, -0.6, -0.7, -0.8, -0.9, -1.0, -1.1, -1.2, -1.3, -1.4, -1.5, -1.6], "labelExpr": "datum.value == 0 ? '0' : format(datum.value, '.1f')", "title": "[C/N]", "tickSize": 6, "labelPadding": 33, "titlePadding": 32, "labelFlush": false, "labelOverlap": false}},
     "y2": {"field": "lo"}
    }},
   {"data": {"name": "cloudThm"}, "mark": {"type": "area", "color": "#c8c8c8", "clip": true},
    "encoding": {
     "x": {"field": "m", "type": "quantitative", "scale": {"domain": [0.75, 5.5], "nice": false, "zero": false}, "axis": null},
     "y": {"field": "hi", "type": "quantitative", "scale": {"domain": [-1.663, 0.009], "nice": false, "zero": false}, "axis": null},
     "y2": {"field": "lo"}
    }},
   {"data": {"name": "ptsThm"}, "mark": {"type": "point", "shape": "M-1,-1L1,1M-1,1L1,-1", "size": 64, "filled": false, "color": "#aaaaaa", "strokeWidth": 1.3, "opacity": 1, "clip": true},
    "encoding": {
     "x": {"field": "m", "type": "quantitative", "scale": {"domain": [0.75, 5.5], "nice": false, "zero": false}, "axis": {"orient": "bottom", "tickCount": 48, "labels": false, "domain": false, "tickSize": 4, "title": null}},
     "y": {"field": "cn", "type": "quantitative", "scale": {"domain": [-1.663, 0.009], "nice": false, "zero": false}, "axis": {"orient": "left", "tickCount": 168, "labels": false, "domain": false, "tickSize": 4, "title": null}}
    }},
   {"data": {"name": "obs"}, "transform": [{"filter": {"field": "g", "oneOf": ["teal","msq","bdiam","gcirc","rsq","grcirc","grtri","rtri","pcirc","btri","grsq","bcirc","mtri","ysq","bbig","mcirc"]}}],
    "mark": {"type": "point", "filled": true, "opacity": 1, "clip": true},
    "encoding": {
     "x": {"field": "m", "type": "quantitative", "scale": {"domain": [0.75, 5.5], "nice": false, "zero": false}, "axis": null},
     "y": {"field": "cn", "type": "quantitative", "scale": {"domain": [-1.663, 0.009], "nice": false, "zero": false}, "axis": null},
     "shape": {"field": "g", "type": "nominal", "scale": {"domain": ["teal","msq","bdiam","gcirc","rsq","grcirc","grtri","rtri","pcirc","btri","grsq","bcirc","mtri","ysq","bbig","mcirc"], "range": ["circle","square","diamond","circle","square","circle","triangle-down","triangle-up","circle","triangle-down","square","circle","triangle-down","square","circle","circle"]}, "legend": null},
     "color": {"field": "g", "type": "nominal", "scale": {"domain": ["teal","msq","bdiam","gcirc","rsq","grcirc","grtri","rtri","pcirc","btri","grsq","bcirc","mtri","ysq","bbig","mcirc"], "range": ["#009090","#ff00ff","#0000ff","#ffcc00","#ee0000","#00aa00","#00aa00","#ee0000","#800080","#000000","#00aa00","#000000","#ff00ff","#ffd700","#0000ff","#ff00ff"]}, "legend": null},
     "size": {"field": "g", "type": "ordinal", "scale": {"domain": ["teal","msq","bdiam","gcirc","rsq","grcirc","grtri","rtri","pcirc","btri","grsq","bcirc","mtri","ysq","bbig","mcirc"], "range": [340,480,620,360,480,380,450,450,380,560,420,380,500,440,580,380]}, "legend": null}
    }},
   {"data": {"name": "obs"}, "transform": [{"filter": {"field": "g", "oneOf": ["bopen","gopensq","bodiam","bopensq","popensq"]}}],
    "mark": {"type": "point", "filled": false, "strokeWidth": 2, "opacity": 1, "clip": true},
    "encoding": {
     "x": {"field": "m", "type": "quantitative", "scale": {"domain": [0.75, 5.5], "nice": false, "zero": false}, "axis": null},
     "y": {"field": "cn", "type": "quantitative", "scale": {"domain": [-1.663, 0.009], "nice": false, "zero": false}, "axis": null},
     "shape": {"field": "g", "type": "nominal", "scale": {"domain": ["bopen","gopensq","bodiam","bopensq","popensq"], "range": ["square","square","diamond","square","square"]}, "legend": null},
     "color": {"field": "g", "type": "nominal", "scale": {"domain": ["bopen","gopensq","bodiam","bopensq","popensq"], "range": ["#000000","#ffcc00","#0000ff","#0000ff","#ff3399"]}, "legend": null},
     "size": {"field": "g", "type": "ordinal", "scale": {"domain": ["bopen","gopensq","bodiam","bopensq","popensq"], "range": [190,560,320,420,300]}, "legend": null}
    }},
   {"data": {"name": "obs"}, "transform": [{"filter": {"field": "g", "oneOf": ["bx","pplus","mplus","bplus","bplus2","sx"]}}],
    "mark": {"type": "point", "filled": false, "strokeWidth": 2.2, "opacity": 1, "clip": true},
    "encoding": {
     "x": {"field": "m", "type": "quantitative", "scale": {"domain": [0.75, 5.5], "nice": false, "zero": false}, "axis": null},
     "y": {"field": "cn", "type": "quantitative", "scale": {"domain": [-1.663, 0.009], "nice": false, "zero": false}, "axis": null},
     "shape": {"field": "g", "type": "nominal", "scale": {"domain": ["bx","pplus","mplus","bplus","bplus2","sx"], "range": ["M-1,-1L1,1M-1,1L1,-1","M-1,0L1,0M0,-1L0,1","M-1,0L1,0M0,-1L0,1","M-1,0L1,0M0,-1L0,1","M-1,0L1,0M0,-1L0,1","M-1,-1L1,1M-1,1L1,-1"]}, "legend": null},
     "color": {"field": "g", "type": "nominal", "scale": {"domain": ["bx","pplus","mplus","bplus","bplus2","sx"], "range": ["#000000","#800080","#ff00ff","#000000","#0000ff","#f04040"]}, "legend": null},
     "size": {"field": "g", "type": "ordinal", "scale": {"domain": ["bx","pplus","mplus","bplus","bplus2","sx"], "range": [560,560,560,700,540,850]}, "legend": null}
    }},
   {"data": {"name": "err"}, "mark": {"type": "rule", "color": "#444444", "strokeWidth": 2},
    "encoding": {
     "x": {"field": "m", "type": "quantitative", "scale": {"domain": [0.75, 5.5], "nice": false, "zero": false}, "axis": null},
     "y": {"field": "ylo", "type": "quantitative", "scale": {"domain": [-1.663, 0.009], "nice": false, "zero": false}, "axis": null},
     "y2": {"field": "yhi"}
    }},
   {"data": {"name": "err"}, "mark": {"type": "rule", "color": "#444444", "strokeWidth": 2},
    "encoding": {
     "x": {"field": "xlo", "type": "quantitative", "scale": {"domain": [0.75, 5.5], "nice": false, "zero": false}, "axis": null},
     "x2": {"field": "xhi"},
     "y": {"field": "cn", "type": "quantitative", "scale": {"domain": [-1.663, 0.009], "nice": false, "zero": false}, "axis": null}
    }},
   {"data": {"name": "caps"}, "mark": {"type": "point", "filled": false, "strokeWidth": 2, "color": "#444444", "opacity": 1, "size": 144},
    "encoding": {
     "x": {"field": "m", "type": "quantitative", "scale": {"domain": [0.75, 5.5], "nice": false, "zero": false}, "axis": null},
     "y": {"field": "cn", "type": "quantitative", "scale": {"domain": [-1.663, 0.009], "nice": false, "zero": false}, "axis": null},
     "shape": {"field": "c", "type": "nominal", "scale": {"domain": ["v","h"], "range": ["M0,-1L0,1","M-0.6,0L0.6,0"]}, "legend": null}
    }},
   {"data": {"name": "lblThm"}, "mark": {"type": "text", "font": "Liberation Serif", "fontWeight": "bold", "fontSize": 78, "align": "center", "baseline": "alphabetic", "color": "#000000"},
    "encoding": {
     "x": {"field": "m", "type": "quantitative", "scale": {"domain": [0.75, 5.5], "nice": false, "zero": false}, "axis": null},
     "y": {"field": "cn", "type": "quantitative", "scale": {"domain": [-1.663, 0.009], "nice": false, "zero": false}, "axis": null},
     "text": {"field": "t"}
    }}
  ]
 }
]
}
